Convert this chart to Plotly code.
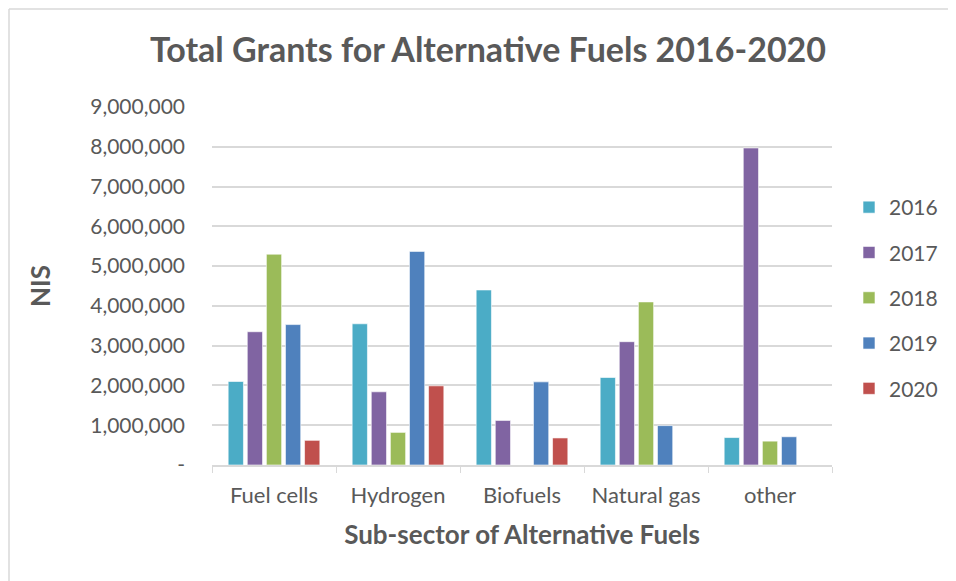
import plotly.graph_objects as go

categories = ["Fuel cells", "Hydrogen", "Biofuels", "Natural gas", "other"]
years = ["2016", "2017", "2018", "2019", "2020"]
v2016 = [2100000, 3550000, 4400000, 2200000, 690000]
v2017 = [3350000, 1840000, 1120000, 3100000, 7970000]
v2018 = [5300000, 820000, None, 4100000, 600000]
v2019 = [3530000, 5370000, 2090000, 990000, 710000]
v2020 = [620000, 1990000, 680000, None, None]
series = [v2016, v2017, v2018, v2019, v2020]
colors = ["#4BACC6", "#8064A2", "#9BBB59", "#4F81BD", "#C0504D"]
tick_vals = [0, 1000000, 2000000, 3000000, 4000000, 5000000, 6000000, 7000000, 8000000, 9000000]
tick_text = ["-", "1,000,000", "2,000,000", "3,000,000", "4,000,000", "5,000,000",
             "6,000,000", "7,000,000", "8,000,000", "9,000,000"]

FONT = "Lato"
GREY = "#595959"

fig = go.Figure()
for yr, vals, col in zip(years, series, colors):
    fig.add_trace(go.Bar(
        name=yr, x=categories, y=vals, legendgroup=yr,
        marker=dict(color=col, line=dict(color="rgba(255,255,255,0.6)", width=1)),
    ))

# page offset of the figure inside the browser window
OFF = 8
W, H = 956 - OFF, 581 - OFF
PL, PR, PT, PB = 212, 832, 107, 465          # target plot box on screen
L, R, T, B = PL - OFF, 956 - PR, PT - OFF, 581 - PB
pw, ph = PR - PL, PB - PT

def px_x(x):
    return (x - PL) / pw

def px_y(y):
    return (PB - y) / ph

def cx(x):
    return (x - OFF) / W

def cy(y):
    return 1 - (y - OFF) / H

fig.update_layout(
    width=W, height=H,
    margin=dict(l=L, r=R, t=T, b=B),
    paper_bgcolor="white", plot_bgcolor="white",
    barmode="group", bargap=0.23, bargroupgap=0.2,
    font=dict(family=FONT, color=GREY, size=20),
    title=dict(text="<b>Total Grants for Alternative Fuels 2016-2020</b>",
               xref="container", x=cx(488), xanchor="center",
               yref="container", y=cy(50), yanchor="middle",
               font=dict(size=34, color=GREY, family=FONT)),
    xaxis=dict(
        showgrid=False, showline=True, linecolor="#D9D9D9", linewidth=1.5,
        ticks="outside", tickson="boundaries", ticklen=6, tickcolor="#D9D9D9",
        ticklabelstandoff=10,
        tickfont=dict(size=22, color=GREY),
        title=dict(text="<b>Sub-sector of Alternative Fuels</b>",
                   font=dict(size=26, color=GREY), standoff=19),
    ),
    yaxis=dict(
        range=[0, 9000000], tickvals=tick_vals, ticktext=tick_text,
        showgrid=True, gridcolor="#D9D9D9", gridwidth=1.5,
        zeroline=False, showline=False, ticks="",
        ticklabelstandoff=26,
        tickfont=dict(size=21, color=GREY),
        title=dict(text="<b>NIS</b>", font=dict(size=26, color=GREY), standoff=32),
    ),
    legend=dict(
        xref="container", x=cx(849), xanchor="left",
        yref="container", y=cy(298), yanchor="middle",
        font=dict(size=21, color=GREY), tracegroupgap=15,
        itemwidth=30, bgcolor="rgba(0,0,0,0)",
    ),
    shapes=[
        dict(type="line", xref="paper", yref="paper",
             x0=px_x(OFF + 1), x1=px_x(2000), y0=px_y(OFF + 1), y1=px_y(OFF + 1),
             line=dict(color="#D9D9D9", width=1.5)),
        dict(type="line", xref="paper", yref="paper",
             x0=px_x(OFF + 1), x1=px_x(OFF + 1), y0=px_y(OFF + 1), y1=px_y(2000),
             line=dict(color="#D9D9D9", width=1.5)),
    ],
)

fig.write_html("out.html")
